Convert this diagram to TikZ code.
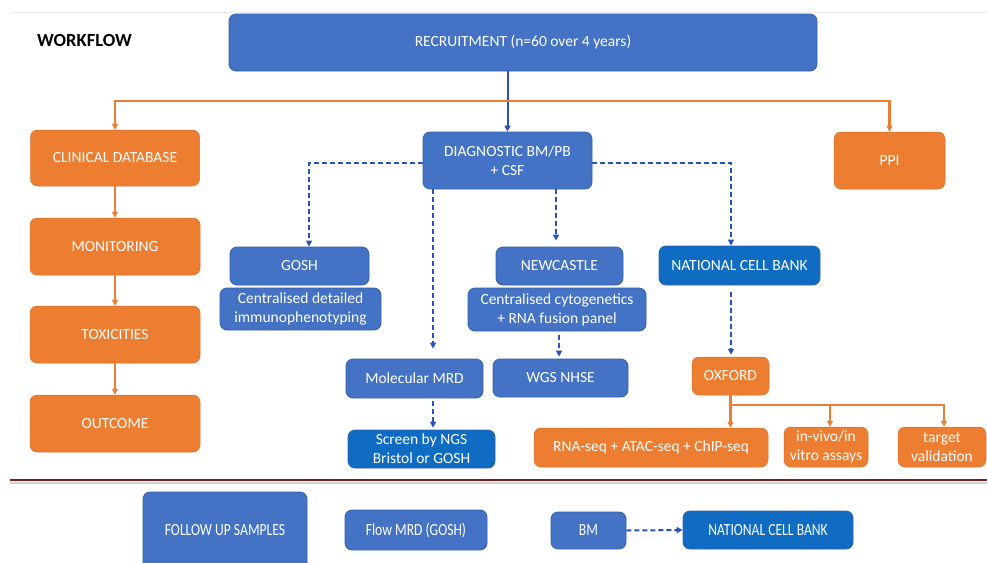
\documentclass[tikz,border=0pt]{standalone}
\usepackage{fontspec}
\setmainfont{Carlito}
\usetikzlibrary{arrows.meta,calc}
\definecolor{bblue}{HTML}{4472C4}
\definecolor{dblue}{HTML}{0F6CC2}
\definecolor{bedge}{HTML}{3560B0}
\definecolor{orng}{HTML}{ED7D31}
\definecolor{lblue}{HTML}{2A52B8}
\definecolor{maroon}{HTML}{7A1E22}
\tikzset{
  base/.style={rounded corners=7pt, inner sep=0pt, text=white, align=center, font=\fontsize{15.5}{19}\selectfont},
  bbox/.style={base, fill=bblue, draw=bedge, line width=0.8pt},
  dbox/.style={base, fill=dblue, draw=bedge, line width=0.8pt},
  obox/.style={base, fill=orng, draw=orng!90!black, line width=0.5pt},
  btext/.style={text=white, inner sep=0pt, font=\fontsize{17}{19}\selectfont, xscale=0.8},
  tip/.style={-{Triangle[length=6pt,width=6pt]}},
  oarrow/.style={tip, draw=orng, line width=2.2pt},
  barrow/.style={tip, draw=lblue, line width=2pt},
  darrow/.style={tip, draw=lblue, line width=2pt, dash pattern=on 5pt off 3pt},
}
\begin{document}
\begin{tikzpicture}[x=1pt,y=-1pt]
\clip (0,0) rectangle (987,562);
\fill[white] (0,0) rectangle (987,562);
\draw[gray!15, line width=1pt] (10,12) -- (987,12);
\node[anchor=west, inner sep=0pt, font=\fontsize{18.5}{20}\selectfont\bfseries] (wf) at (37,40) {WORKFLOW};

% top
\node[bbox, minimum width=588, minimum height=57] (recruit) at (523,42.5) {\raisebox{-1.5pt}{RECRUITMENT (n=60 over 4 years)}};

% left column
\node[obox, minimum width=169, minimum height=56] (clin) at (115,158) {CLINICAL DATABASE};
\node[obox, minimum width=170, minimum height=57] (monit) at (115,246.5) {MONITORING};
\node[obox, minimum width=170, minimum height=57] (toxic) at (115,334.5) {TOXICITIES};
\node[obox, minimum width=170, minimum height=57] (outc) at (115,423.5) {OUTCOME};

% centre
\node[bbox, minimum width=169, minimum height=57] (diag) at (507.5,160.5) {DIAGNOSTIC BM/PB\\+ CSF};
\node[obox, minimum width=111, minimum height=57] (ppi) at (889.5,160.5) {PPI};

\node[bbox, minimum width=139, minimum height=38] (gosh) at (299.5,266) {GOSH};
\node[bbox, minimum width=161, minimum height=42] (gosh2) at (300.5,309) {Centralised detailed\\immunophenotyping};
\node[bbox, minimum width=127, minimum height=38] (newc) at (559.5,266) {NEWCASTLE};
\node[bbox, minimum width=178, minimum height=43] (newc2) at (557,309.5) {Centralised cytogenetics\\+ RNA fusion panel};
\node[bbox, minimum width=135, minimum height=38] (wgs) at (560.5,378) {WGS NHSE};
\node[bbox, minimum width=137, minimum height=39] (mol) at (414.5,378.5) {Molecular MRD};
\node[dbox, minimum width=147, minimum height=38] (screen) at (421.5,449) {Screen by NGS\\Bristol or GOSH};
\node[dbox, minimum width=161, minimum height=39] (ncb) at (739.5,265.5) {NATIONAL CELL BANK};
\node[obox, minimum width=77, minimum height=38] (oxf) at (730.5,376) {OXFORD};
\node[obox, minimum width=234, minimum height=39] (rna) at (651,447.5) {RNA-seq + ATAC-seq + ChIP-seq};
\node[obox, minimum width=84, minimum height=40] (inv) at (826,447) {in-vivo/in\\vitro assays};
\node[obox, minimum width=88, minimum height=40] (targ) at (942,447) {target\\validation};

% divider
\draw[gray!35, line width=1.5pt] (10,483) -- (987,483);
\draw[maroon, line width=2.2pt] (10,480) -- (987,480);

% bottom row
\node[bbox, minimum width=164, minimum height=90] (fol) at (225,537) {};
\node[btext] (folt) at (225,530) {FOLLOW UP SAMPLES};
\node[bbox, minimum width=142, minimum height=40] (flow) at (416,530) {};
\node[btext] (flowt) at (flow) {Flow MRD (GOSH)};
\node[bbox, minimum width=75, minimum height=37] (bm) at (588.5,530.5) {};
\node[btext] (bmt) at (bm) {BM};
\node[dbox, minimum width=170, minimum height=38] (ncb2) at (768,530) {};
\node[btext] (ncb2t) at (ncb2) {NATIONAL CELL BANK};

% connectors
\coordinate (obar) at (507,101);
\draw[barrow] (diag.north |- recruit.south) -- (diag.north);
\draw[oarrow] (obar) -| (clin.north);
\draw[oarrow] (obar) -| (ppi.north);
\draw[oarrow] (clin) -- (monit);
\draw[oarrow] (monit) -- (toxic);
\draw[oarrow] (toxic) -- (outc);

\draw[darrow] ([yshift=-2]diag.west) -| ([xshift=9.5]gosh.north);
\draw[darrow] ([yshift=-2]diag.east) -| ([xshift=-8.5]ncb.north);
\draw[darrow, shorten >=10pt] ([xshift=-74.5]diag.south) -- ([xshift=-74.5]diag.south |- mol.north);
\draw[darrow, shorten >=6pt] ([xshift=48.5]diag.south) -- ([xshift=48.5]diag.south |- newc.north);
\draw[darrow, shorten <=4pt, shorten >=2pt] ([xshift=2]newc2.south) -- ([xshift=2]newc2.south |- wgs.north);
\draw[darrow, shorten <=3pt, shorten >=2pt] ([xshift=18.5]mol.south) -- ([xshift=18.5]mol.south |- screen.north);
\draw[darrow, shorten <=7pt, shorten >=2pt] ([xshift=-8.5]ncb.south) -- ([xshift=-8.5]ncb.south |- oxf.north);

\coordinate (osplit) at ([yshift=-10]oxf.south);
\draw[oarrow] (oxf.south) -- (oxf.south |- rna.north);
\draw[oarrow] (osplit) -| ([xshift=4]inv.north);
\draw[oarrow] (osplit) -| ([xshift=2]targ.north);

\draw[darrow] (bm.east) -- (ncb2.west);
\end{tikzpicture}
\end{document}
